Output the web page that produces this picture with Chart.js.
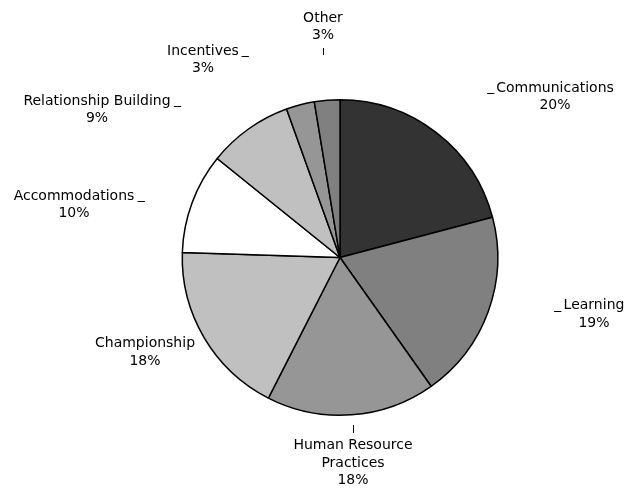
<!DOCTYPE html>
<html>
<head>
<meta charset="utf-8">
<title>Pie chart</title>
<script src="https://cdn.jsdelivr.net/npm/chart.js@4.4.0/dist/chart.umd.min.js"></script>
<style>
    html, body { margin: 0; padding: 0; background: #ffffff; }
    canvas { display: block; }
</style>
</head>
<body>
<canvas id="pieChart" width="631" height="489"></canvas>
<script>
// dados do gráfico
const categories = ['Communications', 'Learning', 'Human Resource\nPractices', 'Championship',
    'Accommodations', 'Relationship Building', 'Incentives', 'Other'];
const shares = [20.9, 19.3, 17.3, 18.0, 10.3, 8.7, 2.9, 2.6];
const shareLabels = ['20%', '19%', '18%', '18%', '10%', '9%', '3%', '3%'];

// cores das fatias
const sliceColors = ['#333333', '#808080', '#969696', '#c0c0c0', '#ffffff', '#c0c0c0', '#969696', '#808080'];

// posição de cada rótulo, relativa ao centro, em unidades do raio
const labelOffsets = [
    [1.364, -1.076], [1.608, 0.304], [0.082, 1.190], [-1.234, 0.544],
    [-1.684, -0.392], [-1.538, -0.994], [-0.870, -1.310], [-0.108, -1.519]
];
// traço curto junto do rótulo: 'left', 'right', 'above', 'below' ou null
const stubSides = ['left', 'left', 'above', null, 'right', 'right', 'right', 'below'];

const LINE_H = 17.5;

const sliceLabels = {
    id: 'sliceLabels',
    afterDatasetsDraw(chart) {
        const ctx = chart.ctx;
        const meta = chart.getDatasetMeta(0);
        ctx.save();
        ctx.font = '14px "DejaVu Sans", Verdana, sans-serif';
        ctx.fillStyle = '#000000';
        ctx.textBaseline = 'middle';
        meta.data.forEach(function(arc, i) {
            const p = arc.getProps(['x', 'y', 'outerRadius'], true);
            const cx = p.x + labelOffsets[i][0] * p.outerRadius;
            const cy = p.y + labelOffsets[i][1] * p.outerRadius;
            const lines = categories[i].split('\n').concat(shareLabels[i]);
            ctx.textAlign = 'center';
            lines.forEach(function(line, k) {
                ctx.fillText(line, Math.round(cx), Math.round(cy + k * LINE_H));
            });
            const w = ctx.measureText(lines[0]).width;
            const side = stubSides[i];
            if (side === 'right') {
                ctx.textAlign = 'left';
                ctx.fillText('_', cx + w / 2 + 3, cy);
            } else if (side === 'left') {
                ctx.textAlign = 'right';
                ctx.fillText('_', cx - w / 2 - 2, cy);
            } else if (side === 'above') {
                ctx.fillRect(Math.round(cx), Math.round(cy - 20), 1, 8);
            } else if (side === 'below') {
                const last = cy + (lines.length - 1) * LINE_H;
                ctx.fillRect(Math.round(cx), Math.round(last + 13), 1, 7);
            }
        });
        ctx.restore();
    }
};

new Chart(document.getElementById('pieChart').getContext('2d'), {
    type: 'pie',
    data: {
        labels: categories,
        datasets: [{
            data: shares,
            backgroundColor: sliceColors,
            borderColor: '#000000',
            borderWidth: 1.5
        }]
    },
    options: {
        responsive: false,
        animation: false,
        layout: {
            padding: { top: 99, bottom: 73, left: 49, right: 0 }
        },
        plugins: {
            legend: { display: false },
            tooltip: { enabled: false },
            title: { display: false }
        }
    },
    plugins: [sliceLabels]
});
</script>
</body>
</html>
